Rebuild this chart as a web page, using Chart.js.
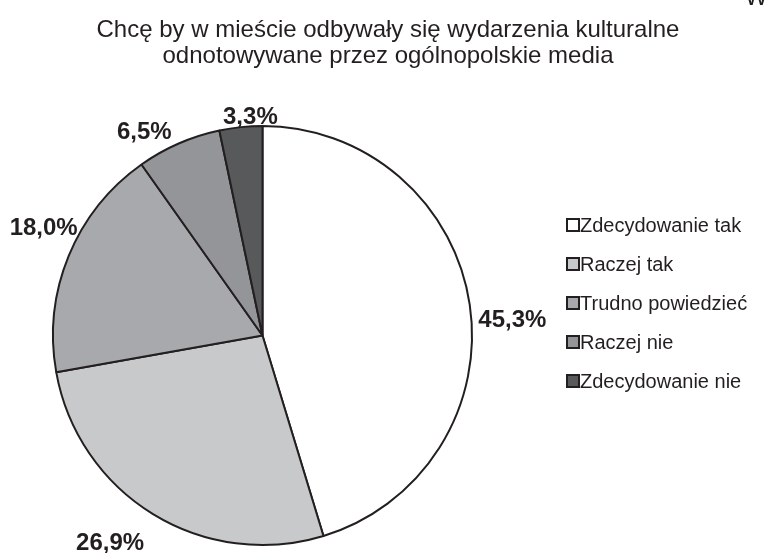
<!DOCTYPE html>
<html>
<head>
<meta charset="utf-8">
<script src="https://cdn.jsdelivr.net/npm/chart.js@4.4.0/dist/chart.umd.min.js"></script>
<style>
  html, body { margin: 0; padding: 0; background: #ffffff; }
  #wrap { width: 768px; height: 553px; position: relative; }
</style>
</head>
<body>
<div id="wrap"><canvas id="chart"></canvas></div>
<script>
// Data
const titleLines = ['Chcę by w mieście odbywały się wydarzenia kulturalne', 'odnotowywane przez ogólnopolskie media'];
const categories = ['Zdecydowanie tak', 'Raczej tak', 'Trudno powiedzieć', 'Raczej nie', 'Zdecydowanie nie'];
const shares = [45.3, 26.9, 18.0, 6.5, 3.3];
const shareLabels = ['45,3%', '26,9%', '18,0%', '6,5%', '3,3%'];

const sliceColors = ['#ffffff', '#c8c9cb', '#a7a9ac', '#939598', '#58595b'];
const edgeColor = '#231f20';
const textColor = '#231f20';
const fontFamily = "'Liberation Sans', Arial, sans-serif";

// small hand nudges so the outside labels sit where the original put them
const labelNudge = [[3, 18], [-22, 16], [12, -21], [-21, 4], [13, 6]];

const overlayPlugin = {
    id: 'overlay',
    afterDraw(chart) {
        const ctx = chart.ctx;
        ctx.save();

        // title, centred over the whole picture
        ctx.fillStyle = textColor;
        ctx.font = '24px ' + fontFamily;
        ctx.textAlign = 'center';
        ctx.textBaseline = 'alphabetic';
        titleLines.forEach((line, i) => ctx.fillText(line, 388, 37 + i * 26));

        // cut-off letter in the top right corner
        ctx.textAlign = 'left';
        ctx.fillText('W', 745, 5);

        // percentage labels outside every slice
        const meta = chart.getDatasetMeta(0);
        ctx.font = 'bold 24px ' + fontFamily;
        ctx.textBaseline = 'middle';
        meta.data.forEach((arc, i) => {
            const p = arc.getProps(['x', 'y', 'startAngle', 'endAngle', 'outerRadius'], true);
            const mid = (p.startAngle + p.endAngle) / 2;
            const dx = Math.cos(mid), dy = Math.sin(mid);
            const w = ctx.measureText(shareLabels[i]).width;
            const h = 20;
            const r = p.outerRadius + 6;
            const x = p.x + r * dx + dx * w / 2 + labelNudge[i][0];
            const y = p.y + r * dy + dy * h / 2 + labelNudge[i][1];
            ctx.textAlign = 'center';
            ctx.fillText(shareLabels[i], x, y);
        });

        // legend on the right
        ctx.font = '20px ' + fontFamily;
        ctx.textAlign = 'left';
        categories.forEach((name, i) => {
            const y = 225 + i * 39;
            ctx.fillStyle = sliceColors[i];
            ctx.fillRect(567, y - 6, 12, 12);
            ctx.strokeStyle = edgeColor;
            ctx.lineWidth = 2;
            ctx.strokeRect(567, y - 6, 12, 12);
            ctx.fillStyle = textColor;
            ctx.fillText(name, 580, y + 1);
        });

        ctx.restore();
    }
};

const chart = new Chart(document.getElementById('chart'), {
    type: 'pie',
    data: {
        labels: categories,
        datasets: [{
            data: shares,
            backgroundColor: sliceColors,
            borderColor: edgeColor,
            borderWidth: 2,
            borderAlign: 'center'
        }]
    },
    options: {
        responsive: true,
        maintainAspectRatio: false,
        animation: false,
        layout: {
            padding: { left: 52, right: 295, top: 125, bottom: 7 }
        },
        plugins: {
            legend: { display: false },
            title: { display: false },
            tooltip: { enabled: false }
        }
    },
    plugins: [overlayPlugin]
});
</script>
</body>
</html>
